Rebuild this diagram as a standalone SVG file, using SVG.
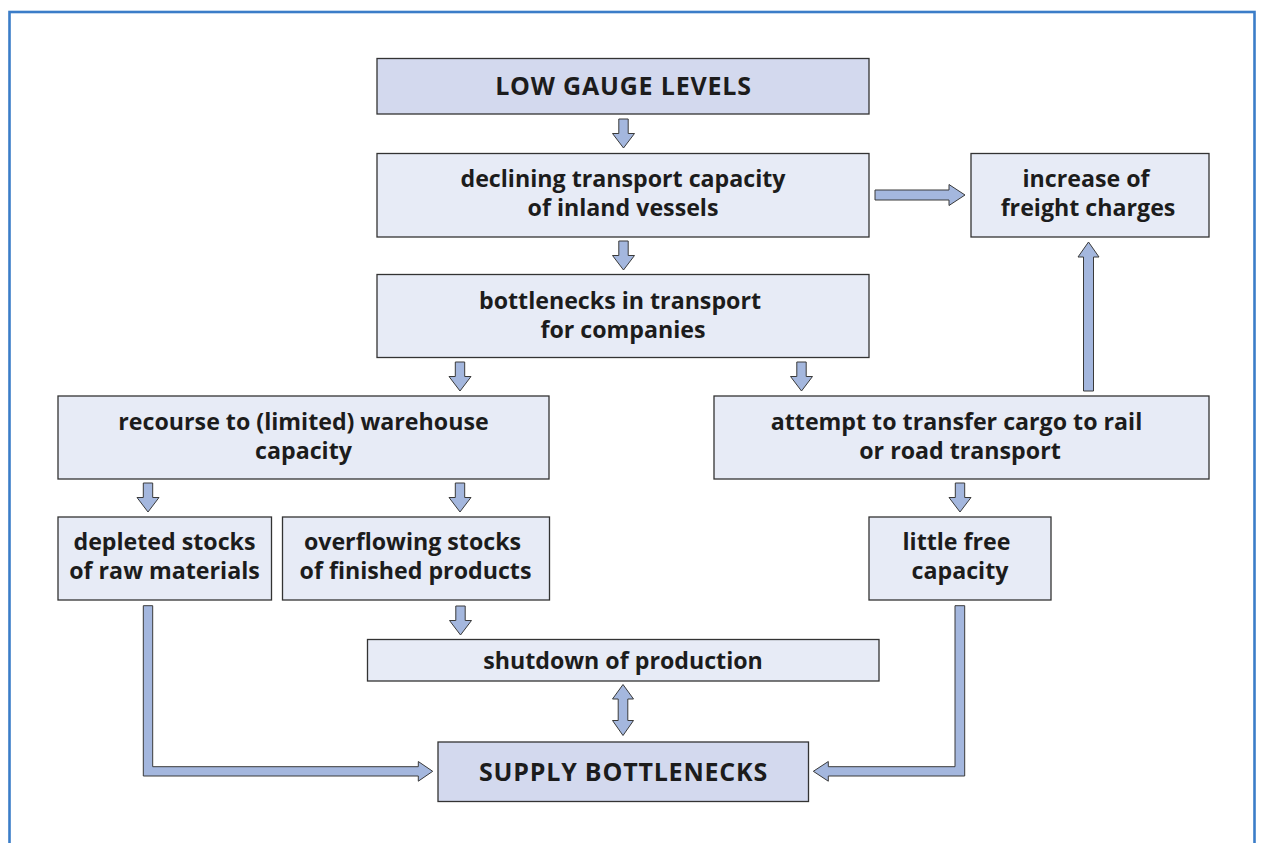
<svg xmlns="http://www.w3.org/2000/svg" xmlns:xlink="http://www.w3.org/1999/xlink" width="1261" height="843" viewBox="0 0 1261 843">
<style>
.frame{fill:none;stroke:#3b7dc8;stroke-width:2.6}
.box{fill:#e7ebf6;stroke:#333;stroke-width:1.3}
.key{fill:#d3d9ee;stroke:#333;stroke-width:1.3}
.arr{fill:#a4b7de;stroke:#3a3a3a;stroke-width:1;stroke-linejoin:miter}
text{font-family:"Open Sans","Noto Sans","DejaVu Sans",sans-serif;font-weight:700;font-size:23.2px;fill:#1c1c1c;text-anchor:middle}
.caps{font-size:25px;letter-spacing:0.8px}
</style>
<defs>
<path id="dn" d="M-4.7,0 h9.4 v14.5 h6.3 L0,29 L-11,14.5 h6.3 Z"/>
</defs>
<rect class="frame" x="9.5" y="12" width="1245" height="900"/>

<g id="n1"><rect class="key" x="377" y="58.5" width="492" height="55.5"/><text class="caps" x="623.5" y="95">LOW GAUGE LEVELS</text></g>
<g id="n2"><rect class="box" x="377" y="153.5" width="492" height="83.5"/><text x="623" y="187">declining transport capacity</text><text x="623" y="216">of inland vessels</text></g>
<g id="n3"><rect class="box" x="971" y="153.5" width="238" height="83.5"/><text x="1086" y="187">increase of</text><text x="1088" y="216">freight charges</text></g>
<g id="n4"><rect class="box" x="377" y="274.5" width="492" height="83"/><text x="620" y="309">bottlenecks in transport</text><text x="623" y="338">for companies</text></g>
<g id="n5"><rect class="box" x="58" y="396" width="491" height="83"/><text x="303.5" y="430">recourse to (limited) warehouse</text><text x="303.5" y="459">capacity</text></g>
<g id="n6"><rect class="box" x="714" y="396" width="495" height="83"/><text x="956.5" y="430">attempt to transfer cargo to rail</text><text x="960" y="459">or road transport</text></g>
<g id="n7"><rect class="box" x="58" y="517" width="213.5" height="83"/><text x="164.5" y="550">depleted stocks</text><text x="164.5" y="579">of raw materials</text></g>
<g id="n8"><rect class="box" x="282.5" y="517" width="267" height="83"/><text x="412.5" y="550">overflowing stocks</text><text x="415.5" y="579">of finished products</text></g>
<g id="n9"><rect class="box" x="869" y="517" width="182" height="83"/><text x="956.5" y="550">little free</text><text x="960" y="579">capacity</text></g>
<g id="n10"><rect class="box" x="367.5" y="639.5" width="511.5" height="41.5"/><text x="623" y="668.5">shutdown of production</text></g>
<g id="n11"><rect class="key" x="438" y="742" width="370.5" height="59.5"/><text class="caps" x="623.5" y="780.5">SUPPLY BOTTLENECKS</text></g>

<g id="connectors">
<use class="arr" xlink:href="#dn" x="623.5" y="119"/>
<use class="arr" xlink:href="#dn" x="623.5" y="241"/>
<use class="arr" xlink:href="#dn" x="460" y="362"/>
<use class="arr" xlink:href="#dn" x="801.5" y="362"/>
<use class="arr" xlink:href="#dn" x="148" y="483"/>
<use class="arr" xlink:href="#dn" x="460" y="483"/>
<use class="arr" xlink:href="#dn" x="960" y="483"/>
<use class="arr" xlink:href="#dn" x="460.5" y="606"/>
<path class="arr" d="M875,190 H949 V184.5 L965,195 L949,205.5 V200 H875 Z"/>
<path class="arr" d="M1083.5,391 V257 H1078 L1088.5,242 L1099,257 H1093.5 V391 Z"/>
<path class="arr" d="M618.2,699 V720.5 H612.5 L623,735.5 L633.5,720.5 H627.8 V699 H633.5 L623,684.5 L612.5,699 Z"/>
<path class="arr" d="M143.3,605.7 H152.7 V766.7 H418.3 V761.5 L432.7,771.3 L418.3,781.2 V776 H143.3 Z"/>
<path class="arr" d="M964.7,605.7 V776 H828.3 V781.2 L813.3,771.3 L828.3,761.5 V766.7 H955 V605.7 Z"/>
</g>
</svg>
